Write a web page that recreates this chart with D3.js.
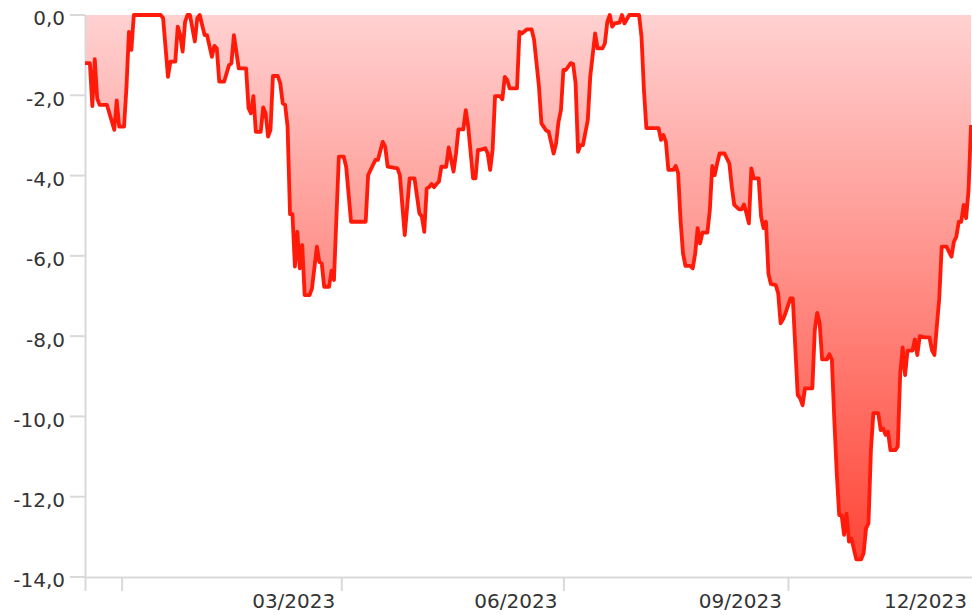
<!DOCTYPE html>
<html>
<head>
<meta charset="utf-8">
<title>Drawdown</title>
<script src="https://cdn.jsdelivr.net/npm/d3@7"></script>
<style>
	html, body { margin: 0; padding: 0; background: #fff; }
	#graph { display: block; font-family: "DejaVu Sans", Verdana, sans-serif; }
</style>
</head>
<body>
<svg id="graph"></svg>
<script>
// dates of the drawdown series (one entry per turning point)
const dates = [
	"2022-12-17","2022-12-19","2022-12-20","2022-12-21","2022-12-22","2022-12-23","2022-12-26","2022-12-29","2022-12-30","2022-12-31",
	"2023-01-02","2023-01-03","2023-01-04","2023-01-05","2023-01-06","2023-01-17","2023-01-18","2023-01-20","2023-01-21","2023-01-23",
	"2023-01-24","2023-01-25","2023-01-26","2023-01-27","2023-01-28","2023-01-29","2023-01-31","2023-02-01","2023-02-02","2023-02-04",
	"2023-02-05","2023-02-07","2023-02-08","2023-02-09","2023-02-10","2023-02-12","2023-02-14","2023-02-15","2023-02-16","2023-02-18",
	"2023-02-21","2023-02-22","2023-02-23","2023-02-24","2023-02-25","2023-02-27","2023-02-28","2023-03-01","2023-03-02","2023-03-03",
	"2023-03-04","2023-03-06","2023-03-07","2023-03-08","2023-03-09","2023-03-10","2023-03-11","2023-03-12","2023-03-13","2023-03-14",
	"2023-03-15","2023-03-16","2023-03-17","2023-03-19","2023-03-20","2023-03-22","2023-03-23","2023-03-24","2023-03-25","2023-03-27",
	"2023-03-28","2023-03-29","2023-03-31","2023-04-02","2023-04-03","2023-04-05","2023-04-11","2023-04-12","2023-04-13","2023-04-15",
	"2023-04-16","2023-04-18","2023-04-19","2023-04-20","2023-04-24","2023-04-25","2023-04-27","2023-04-29","2023-05-01","2023-05-03",
	"2023-05-04","2023-05-05","2023-05-06","2023-05-07","2023-05-08","2023-05-09","2023-05-10","2023-05-11","2023-05-12","2023-05-14",
	"2023-05-15","2023-05-17","2023-05-18","2023-05-19","2023-05-21","2023-05-22","2023-05-23","2023-05-25","2023-05-26","2023-05-27",
	"2023-05-28","2023-05-30","2023-05-31","2023-06-01","2023-06-02","2023-06-03","2023-06-05","2023-06-06","2023-06-07","2023-06-08",
	"2023-06-09","2023-06-12","2023-06-13","2023-06-14","2023-06-16","2023-06-18","2023-06-19","2023-06-21","2023-06-22","2023-06-24",
	"2023-06-25","2023-06-27","2023-06-28","2023-06-29","2023-06-30","2023-07-01","2023-07-02","2023-07-04","2023-07-05","2023-07-06",
	"2023-07-07","2023-07-08","2023-07-09","2023-07-11","2023-07-12","2023-07-14","2023-07-15","2023-07-17","2023-07-18","2023-07-19",
	"2023-07-20","2023-07-21","2023-07-22","2023-07-24","2023-07-25","2023-07-26","2023-07-28","2023-08-01","2023-08-02","2023-08-03",
	"2023-08-04","2023-08-08","2023-08-09","2023-08-10","2023-08-11","2023-08-12","2023-08-13","2023-08-15","2023-08-16","2023-08-17",
	"2023-08-18","2023-08-19","2023-08-20","2023-08-22","2023-08-23","2023-08-24","2023-08-25","2023-08-26","2023-08-27","2023-08-29",
	"2023-08-30","2023-08-31","2023-09-01","2023-09-02","2023-09-03","2023-09-05","2023-09-07","2023-09-08","2023-09-09","2023-09-11",
	"2023-09-12","2023-09-13","2023-09-14","2023-09-15","2023-09-16","2023-09-17","2023-09-19","2023-09-20","2023-09-21","2023-09-22",
	"2023-09-23","2023-09-24","2023-09-26","2023-09-27","2023-09-28","2023-09-29","2023-09-30","2023-10-02","2023-10-03","2023-10-04",
	"2023-10-05","2023-10-06","2023-10-07","2023-10-08","2023-10-11","2023-10-12","2023-10-13","2023-10-14","2023-10-15","2023-10-17",
	"2023-10-18","2023-10-19","2023-10-20","2023-10-21","2023-10-22","2023-10-23","2023-10-24","2023-10-25","2023-10-26","2023-10-27",
	"2023-10-29","2023-10-31","2023-11-01","2023-11-02","2023-11-03","2023-11-04","2023-11-05","2023-11-07","2023-11-08","2023-11-09",
	"2023-11-10","2023-11-11","2023-11-12","2023-11-14","2023-11-15","2023-11-16","2023-11-17","2023-11-18","2023-11-19","2023-11-21",
	"2023-11-22","2023-11-23","2023-11-24","2023-11-26","2023-11-28","2023-11-29","2023-11-30","2023-12-01","2023-12-02","2023-12-03",
	"2023-12-05","2023-12-06","2023-12-07","2023-12-08","2023-12-09","2023-12-10","2023-12-11","2023-12-12","2023-12-13","2023-12-14",
	"2023-12-15"
];

// drawdown in percent, same order as dates
const drawdown = [
	-1.20,-1.20,-2.27,-1.10,-2.08,-2.24,-2.24,-2.86,-2.13,-2.78,
	-2.78,-1.79,-0.42,-0.87,0.00,0.00,-0.08,-1.54,-1.16,-1.16,
	-0.29,-0.50,-0.91,-0.17,0.00,0.00,-0.66,-0.08,0.00,-0.50,
	-0.50,-1.04,-0.77,-0.83,-1.66,-1.66,-1.25,-1.20,-0.50,-1.33,
	-1.33,-2.32,-2.45,-2.02,-2.91,-2.91,-2.30,-2.45,-3.03,-2.86,
	-1.52,-1.52,-1.70,-2.20,-2.24,-2.78,-4.96,-4.96,-6.27,-5.40,
	-6.31,-5.73,-6.98,-6.98,-6.81,-5.77,-6.15,-6.19,-6.77,-6.77,
	-6.37,-6.60,-3.53,-3.53,-3.78,-5.15,-5.15,-3.99,-3.86,-3.61,
	-3.61,-3.16,-3.28,-3.78,-3.82,-3.99,-5.48,-4.07,-4.07,-4.94,
	-5.02,-5.40,-4.32,-4.29,-4.21,-4.29,-4.21,-4.15,-3.78,-3.78,
	-3.30,-3.90,-3.45,-2.85,-2.85,-2.37,-2.78,-4.07,-4.07,-3.36,
	-3.36,-3.32,-3.45,-3.86,-3.36,-2.02,-2.02,-2.10,-1.54,-1.62,
	-1.83,-1.83,-0.42,-0.46,-0.36,-0.36,-0.62,-1.79,-2.70,-2.88,
	-2.91,-3.45,-3.20,-2.66,-2.37,-1.37,-1.37,-1.20,-1.22,-1.70,
	-3.41,-3.24,-3.24,-2.62,-1.54,-0.46,-0.83,-0.83,-0.71,-0.17,
	0.00,-0.29,-0.21,-0.19,0.00,-0.21,0.00,0.00,-0.54,-1.87,
	-2.82,-2.82,-2.82,-3.11,-2.99,-3.16,-3.86,-3.86,-3.76,-3.94,
	-5.11,-5.94,-6.25,-6.25,-6.31,-5.94,-5.31,-5.69,-5.42,-5.42,
	-4.86,-3.76,-3.99,-3.70,-3.45,-3.45,-3.70,-4.28,-4.73,-4.84,
	-4.84,-4.72,-4.94,-5.19,-3.82,-4.07,-4.07,-5.02,-5.31,-5.15,
	-6.44,-6.70,-6.73,-6.93,-7.68,-7.58,-7.43,-7.06,-7.06,-8.26,
	-9.47,-9.55,-9.72,-9.30,-9.30,-7.85,-7.42,-7.68,-8.58,-8.58,
	-8.45,-8.59,-10.09,-11.42,-12.46,-12.46,-12.95,-12.42,-13.12,-13.04,
	-13.56,-13.56,-13.41,-12.79,-12.66,-10.84,-9.92,-9.92,-10.34,-10.30,
	-10.46,-10.38,-10.84,-10.84,-10.75,-8.93,-8.28,-8.97,-8.36,-8.36,
	-8.08,-8.47,-8.00,-8.03,-8.03,-8.35,-8.47,-7.76,-7.06,-5.77,
	-5.77,-5.90,-6.02,-5.65,-5.52,-5.15,-5.15,-4.73,-5.06,-4.36,
	-2.74
];

// axis ticks
const yTicks = [0, -2, -4, -6, -8, -10, -12, -14];
const xTickDates = ["2023-01-01", "2023-04-01", "2023-07-01", "2023-10-01"];
const xLabels = ["03/2023", "06/2023", "09/2023", "12/2023"];
const xLabelDates = ["2023-04-01", "2023-07-01", "2023-10-01", "2024-01-01"];

document.addEventListener("DOMContentLoaded", function () {
	const w = 972;
	const h = 615;
	const left = 85, right = 971, top = 15, bottom = 577;

	const svg = d3.select("#graph").attr("width", w).attr("height", h);

	const parse = d3.timeParse("%Y-%m-%d");
	const data = dates.map((d, i) => ({ date: parse(d), value: drawdown[i] }));

	// comma as decimal separator, plain hyphen as minus
	const locale = d3.formatLocale({ decimal: ",", thousands: ".", grouping: [3], currency: ["", ""], minus: "-" });
	const fmt = locale.format(".1f");

	const xScale = d3.scaleTime()
		.domain(d3.extent(data, (d) => d.date))
		.range([left, right]);
	const yScale = d3.scaleLinear()
		.domain([-14, 0])
		.range([bottom, top]);

	// gradient for the area, light at zero, stronger red at the deepest point
	const minVal = d3.min(data, (d) => d.value);
	const grad = svg.append("defs").append("linearGradient")
		.attr("id", "ddFill")
		.attr("gradientUnits", "userSpaceOnUse")
		.attr("x1", 0).attr("x2", 0)
		.attr("y1", yScale(0)).attr("y2", yScale(minVal));
	grad.append("stop").attr("offset", "0%").attr("stop-color", "#ffd1d1");
	grad.append("stop").attr("offset", "100%").attr("stop-color", "#ff4637");

	// area between zero line and drawdown
	const area = d3.area()
		.x((d) => xScale(d.date))
		.y0(yScale(0))
		.y1((d) => yScale(d.value));
	svg.append("path")
		.datum(data)
		.attr("fill", "url(#ddFill)")
		.attr("d", area);

	// axes
	const axisColor = "#d9d9d9";
	const textColor = "#333";

	const yAxis = svg.append("g").attr("id", "y-axis");
	yAxis.append("line")
		.attr("x1", left + 0.5).attr("x2", left + 0.5)
		.attr("y1", top).attr("y2", bottom + 14)
		.attr("stroke", axisColor).attr("stroke-width", 2);
	const yt = yAxis.selectAll("g.tick")
		.data(yTicks)
		.enter()
		.append("g")
		.attr("class", "tick")
		.attr("transform", (d) => "translate(0," + yScale(d) + ")");
	yt.append("line")
		.attr("x1", left - 15).attr("x2", left)
		.attr("stroke", axisColor).attr("stroke-width", 2);
	yt.append("text")
		.attr("x", left - 20)
		.attr("dy", "0.52em")
		.attr("text-anchor", "end")
		.attr("font-size", 20)
		.attr("fill", textColor)
		.text((d) => fmt(d));

	const xAxis = svg.append("g").attr("id", "x-axis");
	xAxis.append("line")
		.attr("x1", left).attr("x2", w)
		.attr("y1", bottom + 0.5).attr("y2", bottom + 0.5)
		.attr("stroke", axisColor).attr("stroke-width", 2);
	xAxis.selectAll("line.tick")
		.data(xTickDates)
		.enter()
		.append("line")
		.attr("class", "tick")
		.attr("x1", (d) => xScale(parse(d)) + 0.5)
		.attr("x2", (d) => xScale(parse(d)) + 0.5)
		.attr("y1", bottom)
		.attr("y2", bottom + 14)
		.attr("stroke", axisColor).attr("stroke-width", 2);
	// labels sit just left of their tick, the last one is kept inside the svg
	xAxis.selectAll("text")
		.data(xLabels)
		.enter()
		.append("text")
		.attr("x", (d, i) => Math.min(xScale(parse(xLabelDates[i])) - 6, w - 5))
		.attr("y", bottom + 31)
		.attr("text-anchor", "end")
		.attr("font-size", 20)
		.attr("fill", textColor)
		.text((d) => d);

	// drawdown line
	const line = d3.line()
		.x((d) => xScale(d.date))
		.y((d) => yScale(d.value));
	svg.append("path")
		.datum(data)
		.attr("fill", "none")
		.attr("stroke", "#ff1a0a")
		.attr("stroke-width", 3.8)
		.attr("stroke-linejoin", "round")
		.attr("d", line);
});
</script>
</body>
</html>
